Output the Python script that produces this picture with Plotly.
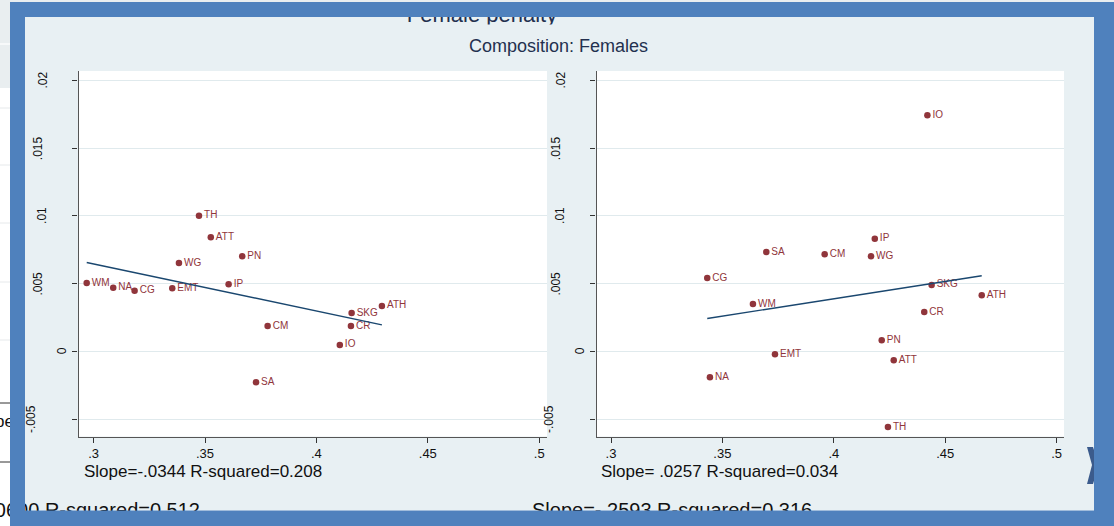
import numpy as np
import plotly.graph_objects as go

W, H = 1114, 526

# ---------------- data ----------------
labels1 = ["WM", "NA", "CG", "EMT", "WG", "TH", "ATT", "PN", "IP", "CM", "SA", "IO", "CR", "SKG", "ATH"]
x1 = [0.2969, 0.3088, 0.3184, 0.3353, 0.3383, 0.3473, 0.3526, 0.3667, 0.3606, 0.3781, 0.3729, 0.4105, 0.4155, 0.4158, 0.4294]
y1 = [0.00504, 0.00470, 0.00448, 0.00465, 0.00652, 0.01001, 0.00842, 0.00702, 0.00495, 0.00187, -0.00229, 0.00047, 0.00187, 0.00283, 0.00335]

labels2 = ["IO", "IP", "SA", "CM", "WG", "CG", "SKG", "ATH", "WM", "CR", "PN", "EMT", "ATT", "NA", "TH"]
x2 = [0.4420, 0.4184, 0.3697, 0.3959, 0.4167, 0.3432, 0.4439, 0.4664, 0.3637, 0.4406, 0.4215, 0.3736, 0.4269, 0.3444, 0.4243]
y2 = [0.01743, 0.00832, 0.00733, 0.00716, 0.00702, 0.00541, 0.00490, 0.00414, 0.00349, 0.00290, 0.00081, -0.00022, -0.00066, -0.00192, -0.00559]

y_tickvals = [-0.005, 0, 0.005, 0.01, 0.015, 0.02]
y_ticktext = ["-.005", "0", ".005", ".01", ".015", ".02"]
x_tickvals = [0.3, 0.35, 0.4, 0.45, 0.5]
x_ticktext = [".3", ".35", ".4", ".45", ".5"]

title_text = "Female penalty"
subtitle_text = "Composition: Females"
note1 = "Slope=-.0344 R-squared=0.208"
note2 = "Slope= .0257 R-squared=0.034"
behind_left = "Slope=-.0600 R-squared=0.512"
behind_right = "Slope=-.2593 R-squared=0.316"

# ---------------- style ----------------
MAROON = "#90353b"
NAVY = "#1a476f"
PANEL = "#e8f0f3"
PAGE = "#e9eef0"
BLUE = "#4f81bd"
GRID = "#e0eaed"
FONT = "Liberation Sans, Arial, sans-serif"
# horizontal centre of each rotated y tick label, in pixels left of the axis line
YLAB_OFFSET = {"-.005": 47.5, "0": 16.5, ".005": 40.5, ".01": 36.5, ".015": 40.5, ".02": 35.5}


def px(xp):
    return xp / W


def py(yp):
    return 1 - yp / H


fig = go.Figure()


def add_panel(xs, ys, labels, xa, ya):
    fig.add_trace(go.Scatter(
        x=xs, y=ys, mode="markers+text", text=labels, textposition="middle right",
        marker=dict(color=MAROON, size=6.5),
        textfont=dict(color=MAROON, size=10, family=FONT),
        xaxis=xa, yaxis=ya, showlegend=False, cliponaxis=False, hoverinfo="skip"))
    b, a = np.polyfit(xs, ys, 1)
    xl = np.array([min(xs), max(xs)])
    fig.add_trace(go.Scatter(
        x=xl, y=a + b * xl, mode="lines", line=dict(color=NAVY, width=1.4),
        xaxis=xa, yaxis=ya, showlegend=False, hoverinfo="skip"))


add_panel(x1, y1, labels1, "x", "y")
add_panel(x2, y2, labels2, "x2", "y2")

# text lying behind the frame (page content), clipped by overlay axes
fig.add_trace(go.Scatter(
    x=[200, 532], y=[512.3, 512.3], mode="text", text=[behind_left, behind_right],
    textposition=["middle left", "middle right"],
    textfont=dict(size=20, color="#111111", family=FONT),
    xaxis="x3", yaxis="y3", showlegend=False, hoverinfo="skip"))
fig.add_trace(go.Scatter(
    x=[14], y=[423], mode="text", text=["Slope"], textposition="middle left",
    textfont=dict(size=17, color="#111111", family=FONT),
    xaxis="x3", yaxis="y3", showlegend=False, hoverinfo="skip"))
# main title, only lower part visible
fig.add_trace(go.Scatter(
    x=[482], y=[16.3], mode="text", text=[title_text], textposition="middle center",
    textfont=dict(size=22, color="#23304f", family=FONT),
    xaxis="x4", yaxis="y4", showlegend=False, hoverinfo="skip"))

yr = [-0.00629, 0.0207]
common_y = dict(range=yr, tickvals=y_tickvals, ticktext=y_ticktext, showticklabels=False,
                showgrid=True, gridcolor=GRID, gridwidth=1, zeroline=False,
                showline=True, linecolor="#555555", linewidth=1.3,
                ticks="outside", ticklen=5, tickcolor="#333333")
common_x = dict(tickvals=x_tickvals, ticktext=x_ticktext, showgrid=False, zeroline=False,
                showline=True, linecolor="#555555", linewidth=1.3,
                ticks="outside", ticklen=5, tickcolor="#333333",
                tickfont=dict(size=13, color="#111111", family=FONT))

AX1_LEFT, AX2_LEFT = 78.5, 596.5

fig.update_layout(
    width=W, height=H, margin=dict(l=0, r=0, t=0, b=0),
    paper_bgcolor="white", plot_bgcolor="rgba(0,0,0,0)",
    xaxis=dict(domain=[px(AX1_LEFT), px(547)], range=[0.29322, 0.5035], anchor="y", **common_x),
    yaxis=dict(domain=[py(436.5), py(71)], anchor="x", **common_y),
    xaxis2=dict(domain=[px(AX2_LEFT), px(1064)], range=[0.29349, 0.50332], anchor="y2", **common_x),
    yaxis2=dict(domain=[py(436.5), py(71)], anchor="x2", **common_y),
    xaxis3=dict(domain=[0, 1], range=[0, W], visible=False, anchor="y3"),
    yaxis3=dict(domain=[0, 1], range=[H, 0], visible=False, anchor="x3"),
    xaxis4=dict(domain=[0, 1], range=[0, W], visible=False, anchor="y4"),
    yaxis4=dict(domain=[py(24.5), 1], range=[24.5, 0], visible=False, anchor="x4"),
)

# rotated y tick labels (Stata style)
for left, yref in [(AX1_LEFT, "y"), (AX2_LEFT, "y2")]:
    for v, t in zip(y_tickvals, y_ticktext):
        fig.add_annotation(x=px(left - YLAB_OFFSET[t]), y=v, xref="paper", yref=yref,
                           text=t, textangle=-90, showarrow=False,
                           xanchor="center", yanchor="middle",
                           font=dict(size=12, color="#111111", family=FONT))

shapes = []


def rect(x0, y0, x1_, y1_, color, layer="below"):
    shapes.append(dict(type="rect", xref="paper", yref="paper",
                       x0=px(x0), x1=px(x1_), y0=py(y1_), y1=py(y0),
                       fillcolor=color, line=dict(width=0), layer=layer))


def hline(x0, x1_, y, color, width=1, layer="below"):
    shapes.append(dict(type="line", xref="paper", yref="paper",
                       x0=px(x0), x1=px(x1_), y0=py(y), y1=py(y),
                       line=dict(color=color, width=width), layer=layer))


# page behind
rect(0, 0, W, 88, PAGE)
hline(0, 30, 44, "#f7f9fa", 2)
for yy in [108, 165, 223, 282, 340]:
    hline(0, 30, yy, "#e6e9eb")
hline(0, 30, 403, "#333333")
hline(0, 30, 462, "#333333")
# inner panel of the chart
rect(25, 17, 1094, 510.5, PANEL)
# white plot regions
rect(AX1_LEFT, 71, 547, 436.5, "white")
rect(AX2_LEFT, 71, 1064, 436.5, "white")

# chevron on the right edge
shapes.append(dict(type="path", xref="paper", yref="paper",
                   path="M {} {} L {} {} L {} {} L {} {} L {} {} L {} {} Z".format(
                       px(1087), py(447), px(1093), py(447), px(1099), py(465),
                       px(1093), py(484), px(1087), py(484), px(1092), py(465)),
                   fillcolor="#3b5b8c", line=dict(width=0), layer="above"))

# blue frame
rect(10, 2, W, 17, BLUE, "above")
rect(10, 510.5, W, H, BLUE, "above")
rect(10, 2, 25, H, BLUE, "above")
rect(1094, 2, W, H, BLUE, "above")

fig.update_layout(shapes=shapes)

fig.add_annotation(x=px(558), y=py(46), xref="paper", yref="paper", text=subtitle_text,
                   showarrow=False, xanchor="center", yanchor="middle",
                   font=dict(size=18, color="#23304f", family=FONT))
fig.add_annotation(x=px(82), y=py(471.5), xref="paper", yref="paper", text=note1,
                   showarrow=False, xanchor="left", yanchor="middle",
                   font=dict(size=17, color="#111111", family=FONT))
fig.add_annotation(x=px(599), y=py(471.5), xref="paper", yref="paper", text=note2,
                   showarrow=False, xanchor="left", yanchor="middle",
                   font=dict(size=17, color="#111111", family=FONT))

fig.write_html("out.html")
